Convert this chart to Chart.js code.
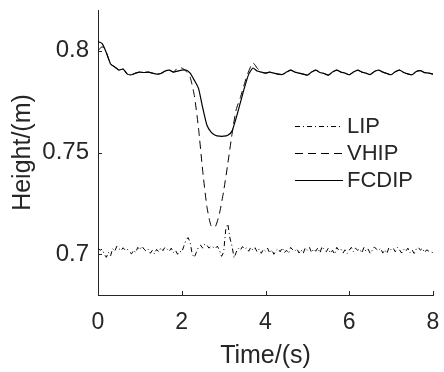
<!DOCTYPE html>
<html>
<head>
<meta charset="utf-8">
<script src="https://cdn.jsdelivr.net/npm/chart.js@4.4.1/dist/chart.umd.min.js"></script>
<style>
  html, body { margin: 0; padding: 0; background: #fff; }
  #wrap { width: 444px; height: 372px; }
</style>
</head>
<body>
<div id="wrap"><canvas id="heightChart" width="444" height="372"></canvas></div>
<script>
// Axes
const xTicks = [0, 2, 4, 6, 8];
const yTicks = [0.7, 0.75, 0.8];
const yTickLabels = ['0.7', '0.75', '0.8'];

// FCDIP et VHIP : pas de 0.1 s, de 0 à 8 s
const fcdip = [
  0.8045, 0.8035, 0.7990, 0.7935, 0.7920, 0.7905, 0.7910, 0.7885, 0.7882, 0.7890,
  0.7895, 0.7893, 0.7895, 0.7890, 0.7885, 0.7888, 0.7900, 0.7905, 0.7895, 0.7900,
  0.7905, 0.7905, 0.7890, 0.7855, 0.7815, 0.7720, 0.7635, 0.7600, 0.7585, 0.7580,
  0.7580, 0.7585, 0.7605, 0.7670, 0.7745, 0.7820, 0.7885, 0.7915, 0.7900, 0.7895,
  0.7890, 0.7895, 0.7890, 0.7885, 0.7883, 0.7895, 0.7905, 0.7895, 0.7890, 0.7885,
  0.7880, 0.7895, 0.7905, 0.7893, 0.7888, 0.7880, 0.7895, 0.7905, 0.7895, 0.7890,
  0.7882, 0.7895, 0.7905, 0.7895, 0.7890, 0.7883, 0.7898, 0.7905, 0.7895, 0.7888,
  0.7882, 0.7897, 0.7905, 0.7893, 0.7886, 0.7882, 0.7898, 0.7902, 0.7892, 0.7890,
  0.7885
];
const vhip = [
  0.8000, 0.8020, 0.7990, 0.7935, 0.7920, 0.7905, 0.7910, 0.7885, 0.7882, 0.7890,
  0.7895, 0.7893, 0.7895, 0.7890, 0.7885, 0.7888, 0.7900, 0.7905, 0.7895, 0.7915,
  0.7915, 0.7900, 0.7870, 0.7780, 0.7620, 0.7410, 0.7235, 0.7140, 0.7135, 0.7200,
  0.7310, 0.7445, 0.7590, 0.7710, 0.7770, 0.7840, 0.7900, 0.7940, 0.7915, 0.7895,
  0.7890, 0.7895, 0.7890, 0.7885, 0.7883, 0.7895, 0.7905, 0.7895, 0.7890, 0.7885,
  0.7880, 0.7895, 0.7905, 0.7893, 0.7888, 0.7880, 0.7895, 0.7905, 0.7895, 0.7890,
  0.7882, 0.7895, 0.7905, 0.7895, 0.7890, 0.7883, 0.7898, 0.7905, 0.7895, 0.7888,
  0.7882, 0.7897, 0.7905, 0.7893, 0.7886, 0.7882, 0.7898, 0.7902, 0.7892, 0.7890,
  0.7885
];
// LIP : pas de 0.05 s
const lip = [
  0.7030, 0.7020, 0.7025, 0.7000, 0.6985, 0.7010, 0.6992, 0.7028, 0.7015, 0.7040,
  0.7028, 0.7018, 0.7032, 0.7020, 0.7025, 0.7012, 0.7002, 0.7020, 0.7008, 0.7034,
  0.7022, 0.7040, 0.7025, 0.7015, 0.7026, 0.7005, 0.7020, 0.7002, 0.7024, 0.7012,
  0.7032, 0.7018, 0.7035, 0.7025, 0.7015, 0.7030, 0.7008, 0.7020, 0.7000, 0.7015,
  0.7010, 0.7040, 0.7070, 0.7082, 0.7060, 0.7000, 0.6985, 0.7010, 0.7035, 0.7045,
  0.7030, 0.7050, 0.7045, 0.7030, 0.7040, 0.7035, 0.7028, 0.7040, 0.7020, 0.6990,
  0.7010, 0.7120, 0.7150, 0.7080, 0.7040, 0.6982, 0.7010, 0.7030, 0.7020, 0.7038,
  0.7025, 0.7032, 0.7015, 0.7035, 0.7020, 0.7032, 0.7012, 0.7026, 0.7005, 0.7025,
  0.7015, 0.7030, 0.7006, 0.7022, 0.7000, 0.7018, 0.7028, 0.7012, 0.7032, 0.7008,
  0.7020, 0.7004, 0.7034, 0.7022, 0.7015, 0.7028, 0.7006, 0.7022, 0.7004, 0.7032,
  0.7020, 0.7034, 0.7008, 0.7026, 0.7015, 0.7032, 0.7006, 0.7038, 0.7022, 0.7012,
  0.7030, 0.7006, 0.7020, 0.7000, 0.7034, 0.7020, 0.7026, 0.7006, 0.7022, 0.7004,
  0.7020, 0.7034, 0.7012, 0.7030, 0.7020, 0.7026, 0.7006, 0.7034, 0.7015, 0.7026,
  0.7004, 0.7020, 0.7036, 0.7025, 0.7018, 0.7030, 0.7006, 0.7022, 0.7004, 0.7034,
  0.7022, 0.7030, 0.7012, 0.7034, 0.7022, 0.7006, 0.7026, 0.7015, 0.7030, 0.7008,
  0.7022, 0.7004, 0.7026, 0.7034, 0.7020, 0.7030, 0.7008, 0.7022, 0.7015, 0.7012,
  0.7008
];

const FONT = "'Liberation Sans', Arial, Helvetica, sans-serif";
const AXIS_COLOR = '#262626';

function toPoints(values, dt) {
    return values.map((v, i) => ({ x: +(i * dt).toFixed(2), y: v }));
}

// Ticks vers l'intérieur + légende dans la zone du tracé
const innerTicks = {
    id: 'innerTicks',
    afterDatasetsDraw(chart) {
        const { ctx, chartArea, scales } = chart;
        ctx.save();
        ctx.strokeStyle = AXIS_COLOR;
        ctx.lineWidth = 1;
        ctx.beginPath();
        scales.x.ticks.forEach(t => {
            const px = Math.round(scales.x.getPixelForValue(t.value)) + 0.5;
            ctx.moveTo(px, chartArea.bottom);
            ctx.lineTo(px, chartArea.bottom - 4);
        });
        scales.y.ticks.forEach(t => {
            const py = Math.round(scales.y.getPixelForValue(t.value)) + 0.5;
            ctx.moveTo(chartArea.left, py);
            ctx.lineTo(chartArea.left + 4, py);
        });
        ctx.stroke();

        // légende
        const rows = [126, 153, 180];
        ctx.font = '22px ' + FONT;
        ctx.textBaseline = 'middle';
        ctx.fillStyle = AXIS_COLOR;
        chart.data.datasets.forEach((ds, i) => {
            const y = rows[i] + 0.5;
            ctx.beginPath();
            ctx.setLineDash(ds.borderDash || []);
            ctx.strokeStyle = ds.borderColor;
            ctx.lineWidth = ds.borderWidth;
            ctx.moveTo(295, y);
            ctx.lineTo(343, y);
            ctx.stroke();
            ctx.fillText(ds.label, 347, rows[i] + 1);
        });
        ctx.restore();
    }
};

new Chart(document.getElementById('heightChart').getContext('2d'), {
    type: 'line',
    data: {
        datasets: [
            {
                label: 'LIP',
                data: toPoints(lip, 0.05),
                borderColor: '#000',
                borderWidth: 1,
                borderDash: [5, 3, 1, 3],
                pointRadius: 0,
                tension: 0
            },
            {
                label: 'VHIP',
                data: toPoints(vhip, 0.1),
                borderColor: '#000',
                borderWidth: 1,
                borderDash: [8, 5],
                pointRadius: 0,
                tension: 0.2
            },
            {
                label: 'FCDIP',
                data: toPoints(fcdip, 0.1),
                borderColor: '#000',
                borderWidth: 1.2,
                pointRadius: 0,
                tension: 0.2
            }
        ]
    },
    options: {
        responsive: false,
        animation: false,
        events: [],
        layout: { padding: { left: 0, right: 11, top: 10, bottom: 0 } },
        plugins: {
            legend: { display: false },
            tooltip: { enabled: false }
        },
        scales: {
            x: {
                type: 'linear',
                min: 0,
                max: 8,
                afterBuildTicks: s => { s.ticks = xTicks.map(v => ({ value: v })); },
                afterFit: s => { s.height = 77; s.paddingLeft = 0; s.paddingRight = 0; },
                grid: { display: true, drawOnChartArea: false, drawTicks: false },
                border: { display: true, color: AXIS_COLOR, width: 1 },
                ticks: {
                    padding: 14,
                    color: AXIS_COLOR,
                    font: { family: FONT, size: 23 },
                    maxRotation: 0,
                    callback: v => String(v)
                },
                title: {
                    display: true,
                    text: 'Time/(s)',
                    color: AXIS_COLOR,
                    font: { family: FONT, size: 25 },
                    padding: { top: 0, bottom: 1 }
                }
            },
            y: {
                min: 0.68,
                max: 0.82,
                afterBuildTicks: s => { s.ticks = yTicks.map(v => ({ value: v })); },
                afterFit: s => { s.width = 98; s.paddingTop = 0; s.paddingBottom = 0; },
                grid: { display: true, drawOnChartArea: false, drawTicks: false },
                border: { display: true, color: AXIS_COLOR, width: 1 },
                ticks: {
                    padding: 9,
                    color: AXIS_COLOR,
                    font: { family: FONT, size: 24 },
                    callback: v => yTickLabels[yTicks.indexOf(+v.toFixed(2))]
                },
                title: {
                    display: true,
                    text: 'Height/(m)',
                    color: AXIS_COLOR,
                    font: { family: FONT, size: 25 },
                    padding: { top: 8, bottom: 0 }
                }
            }
        }
    },
    plugins: [innerTicks]
});
</script>
</body>
</html>
